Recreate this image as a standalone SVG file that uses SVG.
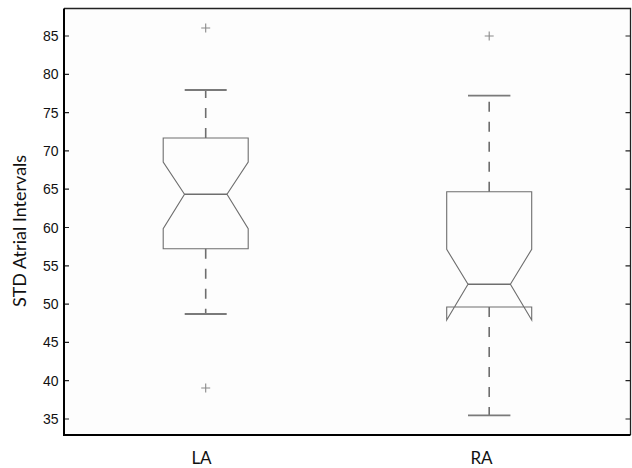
<svg xmlns="http://www.w3.org/2000/svg" width="632" height="468" viewBox="0 0 632 468">
<style>
.tick{font-family:"Liberation Sans",Arial,sans-serif;font-size:14px;fill:#111;text-anchor:end}
.lab{font-family:Lato,"Open Sans",sans-serif;font-size:17px;fill:#111;text-anchor:middle}
.box{fill:none;stroke:#6e6e6e;stroke-width:1.1}
.med{stroke:#6e6e6e;stroke-width:1.5}
.wh{stroke:#6e6e6e;stroke-width:1.6;stroke-dasharray:10 10;fill:none}
.cap{stroke:#7a7a7a;stroke-width:1.8}
.out{stroke:#8a8a8a;stroke-width:1.1}
.tk{stroke:#222;stroke-width:1.2}
</style>
<rect width="632" height="468" fill="#fff"/>
<g id="axes">
<rect x="64" y="8.5" width="566.5" height="426.5" fill="#fdfdfd" stroke="none"/>
<g class="tk">
<path d="M64 36h5M64 74.3h5M64 112.6h5M64 150.9h5M64 189.2h5M64 227.5h5M64 265.8h5M64 304.1h5M64 342.4h5M64 380.7h5M64 419h5"/>
<path d="M630.5 36h-5M630.5 74.3h-5M630.5 112.6h-5M630.5 150.9h-5M630.5 189.2h-5M630.5 227.5h-5M630.5 265.8h-5M630.5 304.1h-5M630.5 342.4h-5M630.5 380.7h-5M630.5 419h-5"/>
</g>
<path d="M64 8.5H630.5V435" fill="none" stroke="#222" stroke-width="1.3"/>
<path d="M64 8.5V435H630.5" fill="none" stroke="#000" stroke-width="2"/>
<g class="tick">
<text x="58.5" y="41">85</text>
<text x="58.5" y="79.3">80</text>
<text x="58.5" y="117.6">75</text>
<text x="58.5" y="155.9">70</text>
<text x="58.5" y="194.2">65</text>
<text x="58.5" y="232.5">60</text>
<text x="58.5" y="270.8">55</text>
<text x="58.5" y="309.1">50</text>
<text x="58.5" y="347.4">45</text>
<text x="58.5" y="385.7">40</text>
<text x="58.5" y="424">35</text>
</g>
<text class="lab" x="201.5" y="463.5">LA</text>
<text class="lab" x="481.5" y="463.5">RA</text>
<text class="lab" transform="translate(25.5 231) rotate(-90)" style="font-size:18px">STD Atrial Intervals</text>
</g>
<g id="connectors">
<path class="wh" d="M205.7 138V90"/>
<path class="wh" d="M205.7 248.7V314"/>
<path class="wh" d="M489.2 191.7V95.7"/>
<path class="wh" d="M489.2 307V415.3"/>
</g>
<g id="box-LA">
<path class="box" d="M163.2 248.7V228.7L184.5 194.3L163.2 162V138H248.2V162L227 194.3L248.2 228.7V248.7Z"/>
<path class="med" d="M184.5 194.3H227"/>
<path class="cap" d="M184.7 90H226.7M184.7 314H226.7"/>
<path class="out" d="M201.2 28H210.2M205.7 23.5V32.5M201.2 388H210.2M205.7 383.5V392.5"/>
</g>
<g id="box-RA">
<path class="box" d="M446.7 307V320L468 284.3L446.7 249.3V191.7H531.7V249.3L510.4 284.3L531.7 320V307Z"/>
<path class="med" d="M468 284.3H510.4"/>
<path class="cap" d="M468 95.7H510.4M468 415.3H510.4"/>
<path class="out" d="M484.7 36H493.7M489.2 31.5V40.5"/>
</g>
</svg>
